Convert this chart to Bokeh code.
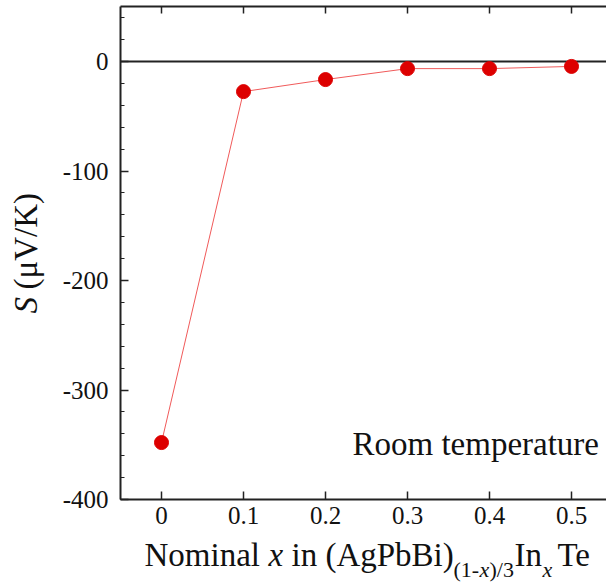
from bokeh.plotting import figure
from bokeh.models import (Range1d, LinearAxis, FixedTicker, SingleIntervalTicker, Label)
from bokeh.embed import file_html
from bokeh.resources import INLINE
import math

# ---- data ----
x_nominal = [0.0, 0.1, 0.2, 0.3, 0.4, 0.5]
seebeck = [-348, -27.5, -16.5, -6.5, -6.5, -4.5]
x_ticks = [0.0, 0.1, 0.2, 0.3, 0.4, 0.5]
x_tick_labels = ["0", "0.1", "0.2", "0.3", "0.4", "0.5"]
y_ticks = [-400, -300, -200, -100, 0]
y_tick_labels = ["-400", "-300", "-200", "-100", "0"]

FONT = "Liberation Serif"
W, H = 606, 587
# axes box (data) and its pixel placement inside the canvas
AX_X0, AX_X1 = -0.05, 0.5427
AX_Y0, AX_Y1 = -400, 50
PX_LEFT, PX_PER_X = 120, 820.0
PX_BOTTOM, PX_PER_Y = 499, 1.095
BASE_SHIFT = 12  # correction of text baseline placement


def dx(px):
    return AX_X0 + (px - PX_LEFT) / PX_PER_X


def dy(py):
    return (PX_BOTTOM - py) / PX_PER_Y + AX_Y0


p = figure(width=W, height=H, output_backend="svg", toolbar_location=None,
           x_range=Range1d(dx(0), dx(W)), y_range=Range1d(dy(H), dy(0)),
           x_axis_type=None, y_axis_type=None,
           min_border_left=0, min_border_right=0, min_border_top=0,
           min_border_bottom=0)
p.outline_line_color = None
p.xgrid.visible = False
p.ygrid.visible = False
p.background_fill_color = "white"
p.border_fill_color = "white"

AX_COLOR = "#222222"

xb = LinearAxis(ticker=FixedTicker(ticks=x_ticks), fixed_location=AX_Y0,
                bounds=(AX_X0, AX_X1),
                major_label_overrides={t: l for t, l in zip(x_ticks, x_tick_labels)})
xt = LinearAxis(ticker=FixedTicker(ticks=x_ticks), fixed_location=AX_Y1,
                bounds=(AX_X0, AX_X1),
                major_label_overrides={t: "" for t in x_ticks})
yl = LinearAxis(ticker=SingleIntervalTicker(interval=100, num_minor_ticks=5),
                fixed_location=AX_X0, bounds=(AX_Y0, AX_Y1),
                major_label_overrides={t: l for t, l in zip(y_ticks, y_tick_labels)})
for ax in (xb, xt, yl):
    ax.axis_line_color = AX_COLOR
    ax.axis_line_width = 2
    ax.major_tick_line_color = AX_COLOR
    ax.major_tick_line_width = 1.5
    ax.minor_tick_line_color = AX_COLOR
    ax.minor_tick_line_width = 1
    ax.major_tick_in = 8
    ax.major_tick_out = 0
    ax.minor_tick_in = 4
    ax.minor_tick_out = 0
    ax.major_label_text_font = FONT
    ax.major_label_text_font_size = "25px"
    ax.major_label_text_color = "#111111"
    ax.axis_label = None
xb.major_label_standoff = 7
yl.major_label_standoff = 12
xt.major_tick_in = 7
xb.minor_tick_line_color = None
xt.minor_tick_line_color = None
p.add_layout(xb, "below")
p.add_layout(xt, "above")
p.add_layout(yl, "left")

# zero reference line across the axes box
p.segment(x0=[AX_X0], y0=[0], x1=[AX_X1], y1=[0], line_color="#222222", line_width=2)

p.line(x_nominal, seebeck, line_color="#f05a5a", line_width=1)
p.scatter(x_nominal, seebeck, size=14, fill_color="#dd0000", line_color="#dd0000")


def lab(text, px, py, size, italic=False, rotated=False):
    if rotated:
        px, py, angle = px - BASE_SHIFT, py, math.pi / 2
    else:
        px, py, angle = px, py - BASE_SHIFT, 0.0
    p.add_layout(Label(x=dx(px), y=dy(py), text=text, text_font=FONT,
                       text_font_size=f"{size}px",
                       text_font_style="italic" if italic else "normal",
                       text_color="#111111", text_align="left",
                       text_baseline="alphabetic", angle=angle))


# x axis label with sub-scripts
lab("Nominal", 144, 566, 33)
lab("x", 268, 566, 33, italic=True)
lab("in (AgPbBi)", 291, 566, 33)
lab("(1-", 453, 581, 22)
lab("x", 479, 581, 22, italic=True)
lab(")/3", 489, 581, 22)
lab("In", 514, 566, 33)
lab("x", 542, 581, 22, italic=True)
lab("Te", 557, 566, 33)

# y axis label (rotated)
lab("S", 37, 313, 33, italic=True, rotated=True)
lab("(\u03bcV/K)", 37, 289, 33, rotated=True)

# annotation
lab("Room temperature", 352, 455, 33)

open("out.html", "w").write(file_html(p, INLINE))
